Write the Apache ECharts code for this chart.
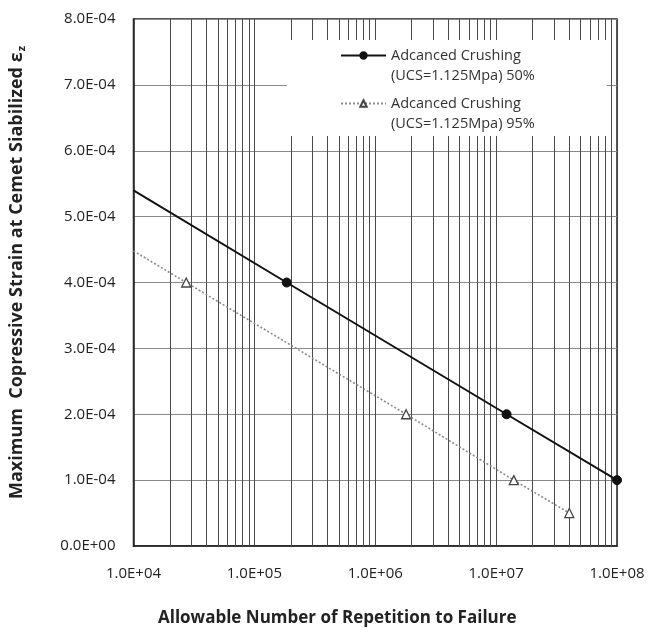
<!DOCTYPE html>
<html>
<head>
<meta charset="utf-8">
<script src="https://cdn.jsdelivr.net/npm/echarts@6/dist/echarts.min.js"></script>
<style>
  html, body { margin: 0; padding: 0; background: #fff; }
  #chart { width: 649px; height: 635px; }
</style>
</head>
<body>
<div id="chart"></div>
<script>
// Allowable repetitions (x, log scale) vs. compressive strain (y)
const seriesNames = [
  'Adcanced Crushing\n(UCS=1.125Mpa) 50%',
  'Adcanced Crushing\n(UCS=1.125Mpa) 95%'
];
const reps50   = [1.0e4, 1.85e5, 1.22e7, 1.0e8];
const strain50 = [5.4e-4, 4.0e-4, 2.0e-4, 1.0e-4];
const marked50 = [false, true, true, true];
const reps95   = [1.0e4, 2.73e4, 1.80e6, 1.40e7, 4.03e7];
const strain95 = [4.48e-4, 4.0e-4, 2.0e-4, 1.0e-4, 0.5e-4];
const marked95 = [false, true, true, true, true];
const xTickValues = [1e4, 1e5, 1e6, 1e7, 1e8];
const yTickStep = 1e-4;

const FONT = '"Open Sans", "Liberation Sans", sans-serif';

function sci(v) {
  if (Math.abs(v) < 1e-15) return '0.0E+00';
  let e = Math.floor(Math.log10(Math.abs(v)) + 1e-9);
  let m = v / Math.pow(10, e);
  if (Math.abs(m) >= 9.95) { m /= 10; e += 1; }
  return m.toFixed(1) + 'E' + (e < 0 ? '-' : '+') + String(Math.abs(e)).padStart(2, '0');
}

function points(xs, ys, marked, size) {
  return xs.map((x, i) => ({ value: [x, ys[i]], symbolSize: marked[i] ? size : 0 }));
}

// Legend label: a blank first line keeps the first text line level with the icon
function legendLabel(name) {
  return '{e| }\n' + name.split('\n').map(s => '{t|' + s + '}').join('\n');
}

// Minor log grid lines: 2..9 within each decade
const minorLines = [];
for (let i = 0; i < xTickValues.length - 1; i++) {
  for (let k = 2; k <= 9; k++) minorLines.push({ xAxis: k * xTickValues[i] });
}

const chart = echarts.init(document.getElementById('chart'), null, { renderer: 'canvas' });
chart.setOption({
  animation: false,
  backgroundColor: '#fff',
  textStyle: { fontFamily: FONT },
  grid: {
    left: 131, right: 32, top: 19, bottom: 89,
    show: true, borderColor: '#222', borderWidth: 1.5, backgroundColor: 'transparent'
  },
  legend: {
    left: 287, top: 40,
    orient: 'vertical',
    padding: [-12, 72, 5, 53],
    itemGap: -7,
    itemWidth: 45,
    itemHeight: 8,
    backgroundColor: '#fff',
    formatter: legendLabel,
    textStyle: {
      fontFamily: FONT, fontSize: 14.5, color: '#333',
      rich: {
        e: { fontSize: 14.5, lineHeight: 20 },
        t: { fontFamily: FONT, fontSize: 14.5, lineHeight: 20, color: '#333' }
      }
    },
    data: seriesNames
  },
  xAxis: {
    type: 'log', logBase: 10, min: 1e4, max: 1e8,
    name: 'Allowable Number of Repetition to Failure',
    nameLocation: 'middle', nameGap: 64,
    nameTextStyle: {
      fontFamily: FONT, fontSize: 17, fontWeight: 'bold', color: '#222',
      padding: [0, 76, 0, 0]
    },
    axisLine: { lineStyle: { color: '#222', width: 1.5 } },
    axisTick: { show: false },
    axisLabel: { formatter: sci, fontSize: 15, color: '#222', margin: 20 },
    splitLine: { show: true, lineStyle: { color: '#4a4a4a', width: 1 } },
    minorTick: { show: false }, minorSplitLine: { show: false }
  },
  yAxis: {
    type: 'value', min: 0, max: 8e-4, interval: yTickStep,
    name: '{t|Maximum  Copressive Strain at Cemet Siabilized ε}{s|z}',
    nameLocation: 'middle', nameGap: 106,
    nameTextStyle: {
      padding: [0, 0, 0, 20],
      rich: {
        t: { fontFamily: FONT, fontSize: 18, fontWeight: 'bold', color: '#222' },
        s: { fontFamily: FONT, fontSize: 11, fontWeight: 'bold', color: '#222', padding: [10, 0, 0, 1] }
      }
    },
    axisLine: { show: true, lineStyle: { color: '#222', width: 1.5 } },
    axisTick: { show: false },
    axisLabel: { formatter: sci, fontSize: 15, color: '#222', margin: 18 },
    splitLine: { show: true, lineStyle: { color: '#8a8a8a', width: 1 } }
  },
  series: [
    {
      name: seriesNames[0],
      type: 'line',
      data: points(reps50, strain50, marked50, 9),
      symbol: 'circle',
      lineStyle: { color: '#111', width: 2 },
      itemStyle: { color: '#111', borderColor: '#111', borderWidth: 1 },
      z: 5,
      markLine: {
        silent: true, symbol: 'none', label: { show: false },
        lineStyle: { color: '#4a4a4a', width: 1, type: 'solid' },
        data: minorLines, z: 1
      }
    },
    {
      name: seriesNames[1],
      type: 'line',
      data: points(reps95, strain95, marked95, 9),
      symbol: 'triangle',
      lineStyle: { color: '#8a8a8a', width: 1.6, type: [2, 2] },
      itemStyle: { color: '#fff', borderColor: '#444', borderWidth: 1.3 },
      z: 5
    }
  ]
});
</script>
</body>
</html>
